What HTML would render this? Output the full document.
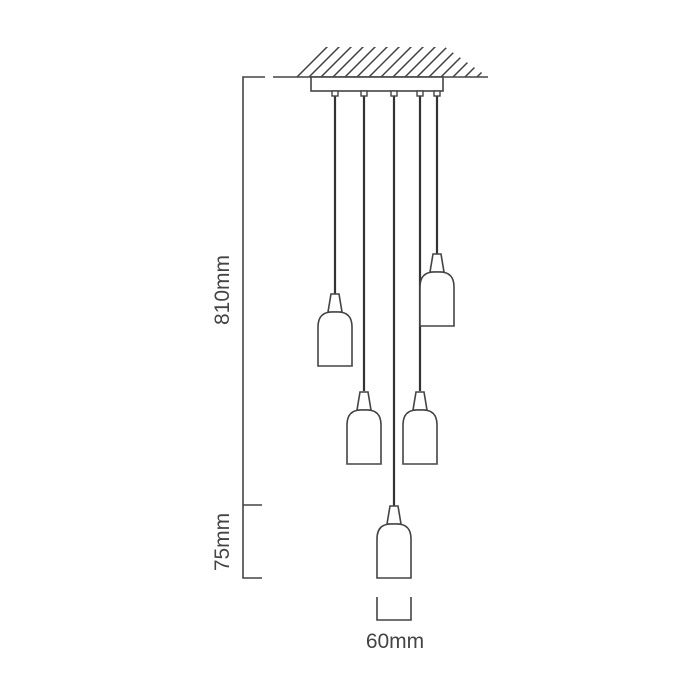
<!DOCTYPE html>
<html><head><style>body{margin:0;background:#fff}svg{display:block}</style></head>
<body>
<svg width="700" height="700" viewBox="0 0 700 700" xmlns="http://www.w3.org/2000/svg">
<defs>
<clipPath id="h"><polygon points="290,77 325,47 445,47 488,77"/></clipPath>
<symbol id="lamp" overflow="visible">
<path d="M-4,0 L4,0 L7,18 L-7,18 Z" fill="#fff" stroke="#444" stroke-width="1.6"/>
<path d="M-17,72 L-17,33 Q-17,18 -3,18 L3,18 Q17,18 17,33 L17,72 Z" fill="#fff" stroke="#444" stroke-width="1.6"/>
</symbol>
</defs>
<g stroke="#444" stroke-width="1.5" clip-path="url(#h)">
<path d="M270,80 l40,-40 M282,80 l40,-40 M294,80 l40,-40 M306,80 l40,-40 M318,80 l40,-40 M330,80 l40,-40 M342,80 l40,-40 M354,80 l40,-40 M366,80 l40,-40 M378,80 l40,-40 M390,80 l40,-40 M402,80 l40,-40 M414,80 l40,-40 M426,80 l40,-40 M438,80 l40,-40 M450,80 l40,-40 M462,80 l40,-40 M474,80 l40,-40"/>
</g>
<g stroke="#444" stroke-width="1.6" fill="none">
<path d="M273,77 L488,77"/>
<path d="M265,77 L243,77 L243,578 L262,578 M243,505 L262,505"/>
<rect x="311" y="77" width="132" height="14" fill="#fff"/>
<path d="M377,597 L377,620 L411,620 L411,597"/>
</g>
<g stroke="#333" stroke-width="2.2">
<line x1="335" y1="95" x2="335" y2="294"/>
<line x1="364" y1="95" x2="364" y2="391"/>
<line x1="394" y1="95" x2="394" y2="507"/>
<line x1="420" y1="95" x2="420" y2="391"/>
<line x1="437" y1="95" x2="437" y2="254"/>
</g>
<g fill="#fff" stroke="#444" stroke-width="1.4">
<rect x="332" y="91" width="6" height="5"/><rect x="361" y="91" width="6" height="5"/><rect x="391" y="91" width="6" height="5"/><rect x="417" y="91" width="6" height="5"/><rect x="434" y="91" width="6" height="5"/>
</g>
<use href="#lamp" x="335" y="294"/>
<use href="#lamp" x="364" y="392"/>
<use href="#lamp" x="420" y="392"/>
<use href="#lamp" x="437" y="254"/>
<use href="#lamp" x="394" y="506"/>
<g font-family="Liberation Sans, sans-serif" font-size="21" fill="#444" text-anchor="middle">
<text x="395" y="648">60mm</text>
<text transform="translate(229,290) rotate(-90)">810mm</text>
<text transform="translate(229,542) rotate(-90)">75mm</text>
</g>
</svg>
</body></html>
